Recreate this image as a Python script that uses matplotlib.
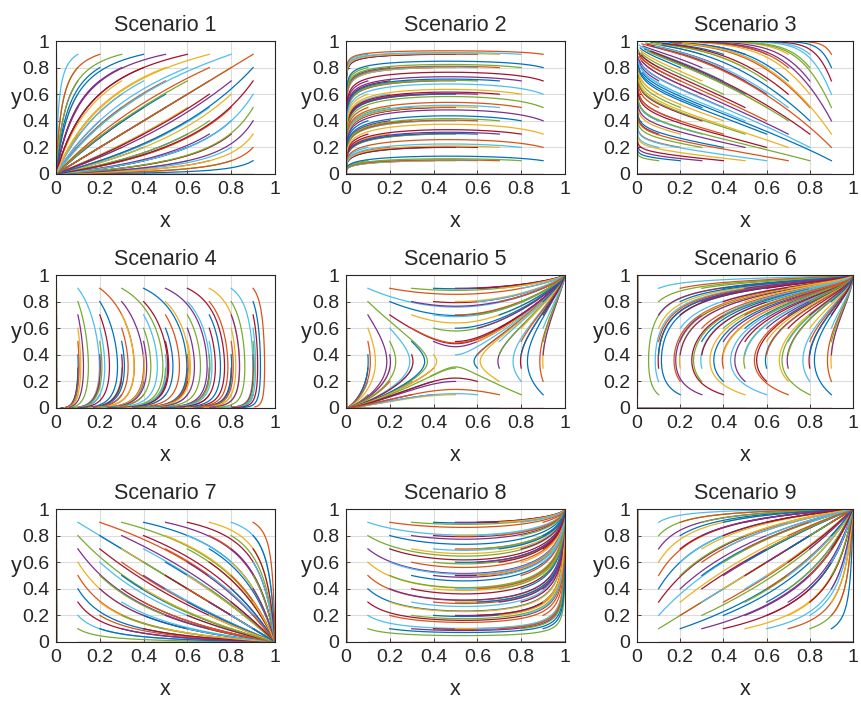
import numpy as np
import matplotlib
matplotlib.use("Agg")
from matplotlib import pyplot as plt

# starting points of the trajectories
x_starts = [0.0, 0.1, 0.2, 0.3, 0.4, 0.5, 0.6, 0.7, 0.8, 0.9]
y_starts = [0.0, 0.1, 0.2, 0.3, 0.4, 0.5, 0.6, 0.7, 0.8, 0.9]

titles = ["Scenario %d" % i for i in range(1, 10)]

# dx/dt = x(1-x)(cx + dx_y*y),  dy/dt = y(1-y)(cy + dy_x*x)
cx_coef   = [-1.0, -3.0, -2.0, -0.25, -0.875, -1.0, 1.0, 2.0, 1.0]
dx_y_coef = [0.0, 0.0, 1.6, 0.8, 2.5, 2.8, 0.0, 0.0, 0.0]
cy_coef   = [-1.0, -0.8, 0.2, -1.0, -1.25, 1.0, -1.0, -1.4, 1.0]
dy_x_coef = [0.0, 1.7, 1.5, 0.0, 2.5, 0.0, 0.0, 2.6, 0.0]
t_end     = [8, 5, 5, 7, 8, 8, 8, 4.5, 8]

matlab_colors = ["#0072BD", "#D95319", "#EDB120", "#7E2F8E",
                 "#77AC30", "#4DBEEE", "#A2142F"]

plt.rcParams['font.family'] = ['Liberation Sans', 'DejaVu Sans']

W, H = 861, 702
fig = plt.figure(figsize=(W/100, H/100), dpi=100)

col_left = [56, 346, 637]
col_width = [219, 219, 216]
row_top = [41, 275, 509]
ax_h = 133


def trajectories(k, dt=0.01):
    X0, Y0 = np.meshgrid(x_starts, y_starts, indexing='ij')
    x = X0.ravel().astype(float)
    y = Y0.ravel().astype(float)
    n = int(t_end[k] / dt)
    xs = np.empty((n + 1, x.size))
    ys = np.empty((n + 1, y.size))
    xs[0], ys[0] = x, y
    for i in range(n):
        fx = x * (1 - x) * (cx_coef[k] + dx_y_coef[k] * y)
        fy = y * (1 - y) * (cy_coef[k] + dy_x_coef[k] * x)
        x = x + dt * fx
        y = y + dt * fy
        xs[i + 1], ys[i + 1] = x, y
    return xs, ys


for k in range(9):
    r, c = divmod(k, 3)
    left = col_left[c] / W
    bottom = (H - row_top[r] - ax_h) / H
    ax = fig.add_axes([left, bottom, col_width[c] / W, ax_h / H])
    xs, ys = trajectories(k)
    for j in range(xs.shape[1]):
        ax.plot(xs[:, j], ys[:, j], lw=0.9,
                color=matlab_colors[j % len(matlab_colors)])
    ax.set_xlim(0, 1)
    ax.set_ylim(0, 1)
    ticks = [0, 0.2, 0.4, 0.6, 0.8, 1]
    labels = ["0", "0.2", "0.4", "0.6", "0.8", "1"]
    ax.set_xticks(ticks)
    ax.set_xticklabels(labels)
    ax.set_yticks(ticks)
    ax.set_yticklabels(labels)
    ax.tick_params(direction='in', length=3, width=0.6, labelsize=14,
                   colors='#262626', pad=5)
    ax.grid(True, color='#dcdcdc', lw=0.8)
    ax.set_axisbelow(True)
    for s in ax.spines.values():
        s.set_color('#262626')
        s.set_linewidth(0.8)
    ax.set_title(titles[k], fontsize=15.5, color='#262626', pad=7)
    ax.set_xlabel("x", fontsize=15.5, color='#262626')
    ax.xaxis.label.set_va('center')
    ax.xaxis.set_label_coords(0.5, -0.36)
    ax.text(-0.18, 0.57, "y", transform=ax.transAxes, fontsize=15.5,
            color='#262626', ha='center', va='center')

fig.savefig("out.png", dpi=100)
